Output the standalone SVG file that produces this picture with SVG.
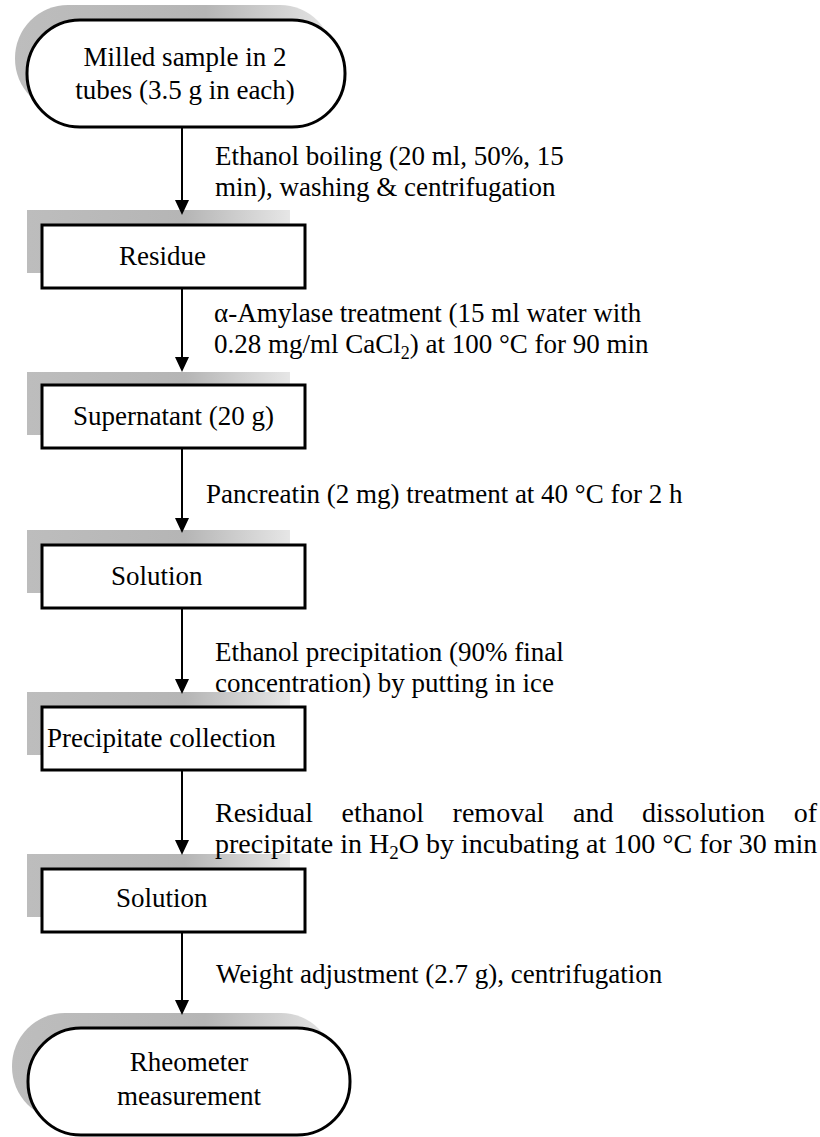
<svg xmlns="http://www.w3.org/2000/svg" width="820" height="1137" viewBox="0 0 820 1137">
<style>
text{font-family:"Liberation Serif","Times New Roman",serif;font-size:27px;fill:#000}
.box{fill:#fff;stroke:#000;stroke-width:3}
.shd{fill:url(#sg)}
.ln{stroke:#000;stroke-width:2;fill:none}
.c{text-anchor:middle}
.sub{font-size:18px}
.w{font-size:28px}
.w .sub{font-size:19px}
</style>
<defs>
<linearGradient id="sg" x1="0" y1="0" x2="1" y2="0">
<stop offset="0" stop-color="#bdbdbd"/>
<stop offset="0.6" stop-color="#b5b5b5"/>
<stop offset="1" stop-color="#e6e6e6"/>
</linearGradient>
</defs>
<g id="start">
<rect class="shd" x="15" y="5" width="318" height="107" rx="53"/>
<rect class="box" x="27" y="20" width="318" height="107" rx="53"/>
<text class="c" x="185" y="66">Milled sample in 2</text>
<text class="c" x="185" y="99">tubes (3.5 g in each)</text>
</g>
<g id="residue">
<rect class="shd" x="27" y="210" width="263" height="63"/>
<rect class="box" x="42" y="225" width="263" height="63"/>
<text x="119" y="265">Residue</text>
</g>
<g id="supernatant">
<rect class="shd" x="27" y="372" width="263" height="63"/>
<rect class="box" x="42" y="385" width="263" height="63"/>
<text x="73" y="425">Supernatant (20 g)</text>
</g>
<g id="solution1">
<rect class="shd" x="27" y="530" width="263" height="63"/>
<rect class="box" x="42" y="545" width="263" height="63"/>
<text x="111" y="585">Solution</text>
</g>
<g id="precipitate">
<rect class="shd" x="27" y="692" width="263" height="63"/>
<rect class="box" x="42" y="707" width="263" height="63"/>
<text x="47" y="747">Precipitate collection</text>
</g>
<g id="solution2">
<rect class="shd" x="27" y="854" width="263" height="63"/>
<rect class="box" x="42" y="869" width="263" height="63"/>
<text x="116" y="907">Solution</text>
</g>
<g id="end">
<rect class="shd" x="12" y="1013" width="322" height="107" rx="53"/>
<rect class="box" x="28" y="1028" width="322" height="107" rx="53"/>
<text class="c" x="189" y="1071">Rheometer</text>
<text class="c" x="189" y="1105">measurement</text>
</g>
<g id="connectors">
<line class="ln" x1="182" y1="127" x2="182" y2="202"/>
<polygon points="175,200 189,200 182,215"/>
<line class="ln" x1="182" y1="288" x2="182" y2="359"/>
<polygon points="175,357 189,357 182,372"/>
<line class="ln" x1="182" y1="448" x2="182" y2="520"/>
<polygon points="175,518 189,518 182,533"/>
<line class="ln" x1="182" y1="608" x2="182" y2="681"/>
<polygon points="175,679 189,679 182,694"/>
<line class="ln" x1="182" y1="770" x2="182" y2="842"/>
<polygon points="175,840 189,840 182,855"/>
<line class="ln" x1="182" y1="932" x2="182" y2="1002"/>
<polygon points="175,1000 189,1000 182,1015"/>
</g>
<g id="labels">
<text x="215" y="165">Ethanol boiling (20 ml, 50%, 15</text>
<text x="215" y="196">min), washing &amp; centrifugation</text>
<text x="214" y="322">α-Amylase treatment (15 ml water with</text>
<text x="214" y="353">0.28 mg/ml CaCl<tspan class="sub" dy="6">2</tspan><tspan dy="-6">) at 100 °C for 90 min</tspan></text>
<text x="206" y="503">Pancreatin (2 mg) treatment at 40 °C for 2 h</text>
<text x="215" y="661">Ethanol precipitation (90% final</text>
<text x="215" y="692">concentration) by putting in ice</text>
<text class="w" x="215" y="822">Residual</text>
<text class="w" x="341.6" y="822">ethanol</text>
<text class="w" x="452.6" y="822">removal</text>
<text class="w" x="573" y="822">and</text>
<text class="w" x="642" y="822">dissolution</text>
<text class="w" x="817" y="822" text-anchor="end">of</text>
<text class="w" x="215" y="853">precipitate in H<tspan class="sub" dy="6">2</tspan><tspan dy="-6">O by incubating at 100 °C for 30 min</tspan></text>
<text x="216" y="983">Weight adjustment (2.7 g), centrifugation</text>
</g>
</svg>
